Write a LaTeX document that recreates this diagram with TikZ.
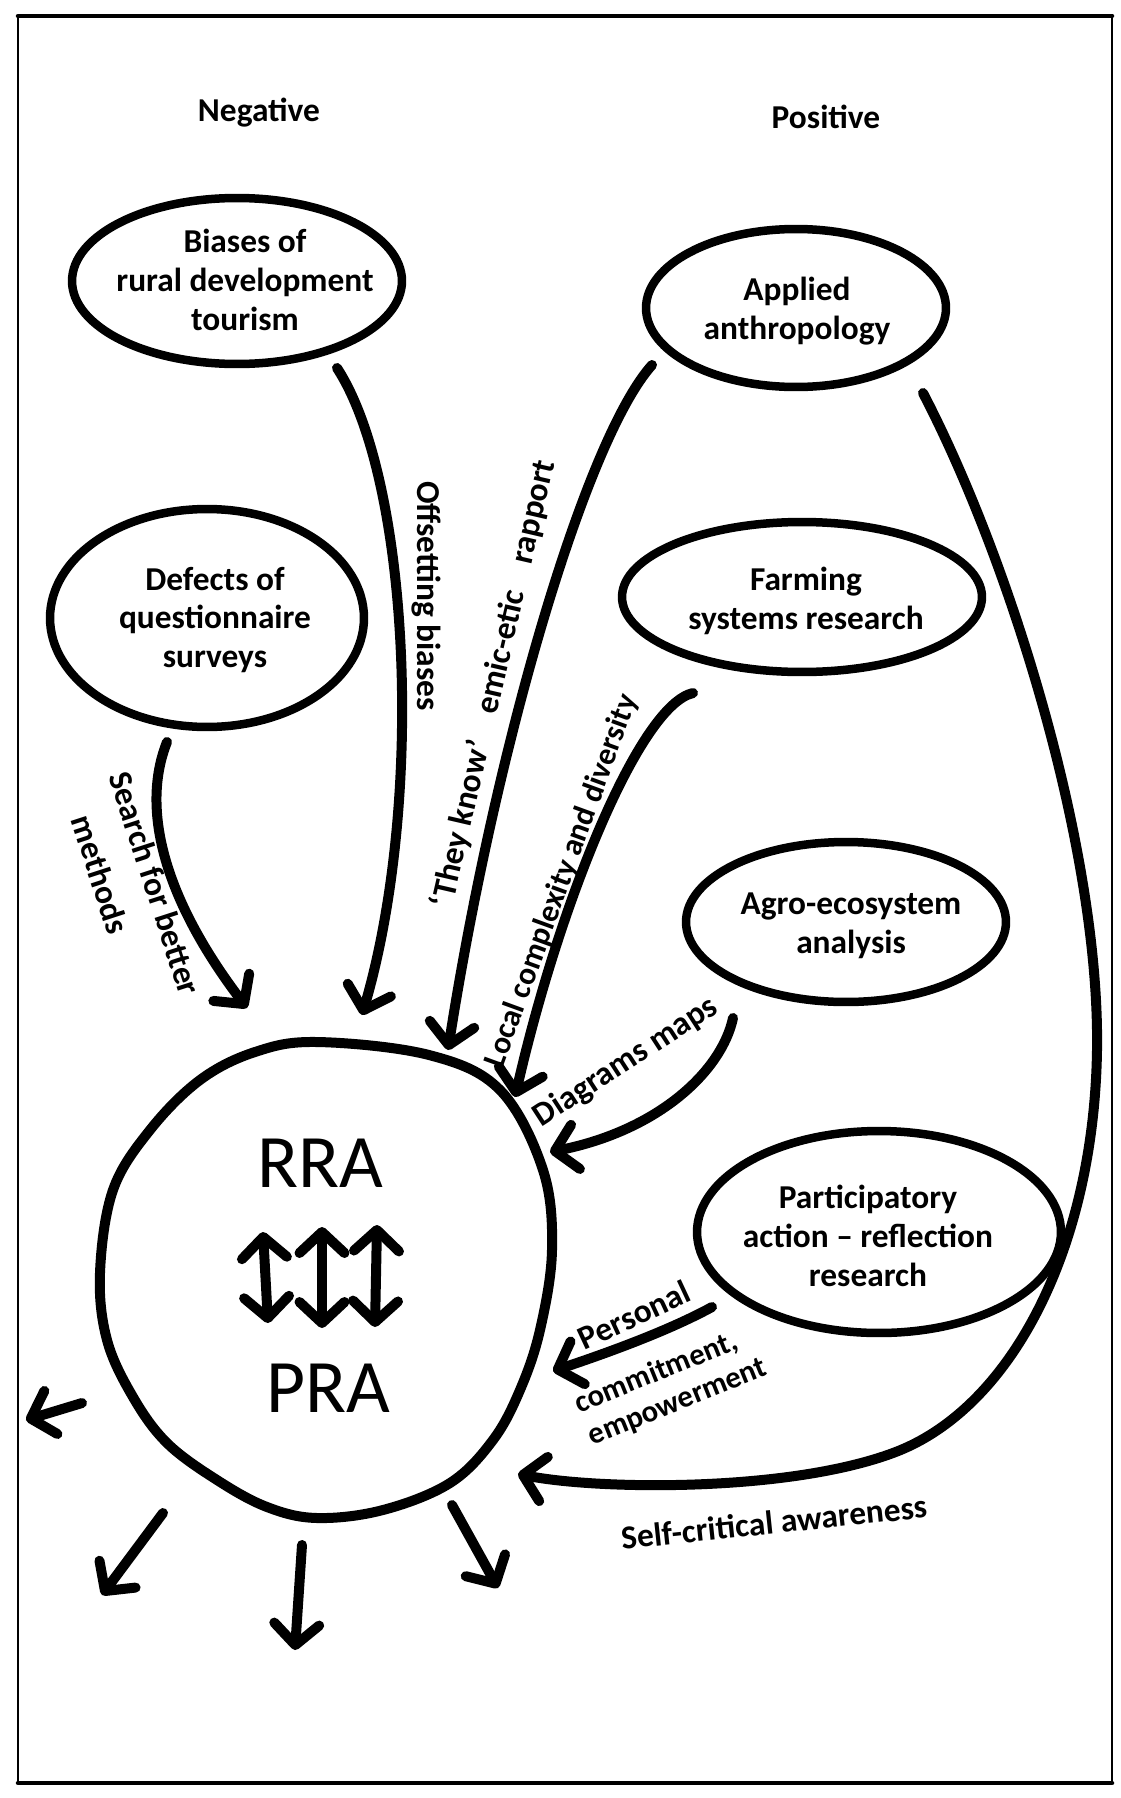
\documentclass[tikz,border=0pt]{standalone}
\usepackage{fontspec}
\setmainfont{Carlito}
\usetikzlibrary{shapes.geometric,arrows.meta}

\begin{document}
\begin{tikzpicture}[x=0.02cm,y=-0.02cm,
  bubble/.style={ellipse, draw, line width=0.17cm, inner sep=0pt},
  txt/.style={align=center, font=\bfseries\fontsize{19}{22}\selectfont, inner sep=0pt},
  lab/.style={align=center, font=\bfseries\fontsize{19}{22}\selectfont, inner sep=0pt},
  big/.style={inner sep=0pt, font=\fontsize{43}{44}\selectfont},
  flow/.style={line width=0.2cm, line cap=round, -{Straight Barb[length=0.42cm,width=0.9cm,round]}},
  both/.style={line width=0.2cm, line cap=round,
    {Straight Barb[length=0.42cm,width=0.9cm,round]}-{Straight Barb[length=0.42cm,width=0.9cm,round]}},
  edge/.style={line cap=round, line join=round},
]
\useasboundingbox (0,0) rectangle (1121,1798);

% hand-ruled frame
\draw[edge, line width=0.09cm] (18,16) -- (1112,16);
\draw[edge, line width=0.05cm] (18,16) -- (18,1783);
\draw[edge, line width=0.05cm] (1112,16) -- (1112,1783);
\draw[edge, line width=0.09cm] (18,1783) -- (1112,1783);

% column headings
\node[txt] (neg) at (259,113) {Negative};
\node[txt] (pos) at (826,117) {Positive};

% source bubbles
\node[bubble, minimum width=6.6cm, minimum height=3.32cm] (biases) at (237,281) {};
\node[txt] (biasesT) at (245,280) {Biases of\\rural development\\tourism};

\node[bubble, minimum width=6.0cm, minimum height=3.16cm] (applied) at (796,308) {};
\node[txt] (appliedT) at (797,311) {Applied\\anthropology};

\node[bubble, minimum width=6.28cm, minimum height=4.36cm] (defects) at (207,618) {};
\node[txt] (defectsT) at (215,620) {Defects of\\questionnaire\\surveys};

\node[bubble, minimum width=7.2cm, minimum height=3.0cm] (farming) at (802,597) {};
\node[txt] (farmingT) at (806,601) {Farming\\systems research};

\node[bubble, minimum width=6.4cm, minimum height=3.2cm] (agro) at (846,922) {};
\node[txt] (agroT) at (851,926) {Agro-ecosystem\\analysis};

\node[bubble, minimum width=7.28cm, minimum height=4.04cm] (partic) at (879,1232) {};
\node[txt] (particT) at (868,1236) {Participatory\\action -- reflection\\research};

% central RRA / PRA circle
\draw[line width=0.2cm, line join=round] plot[smooth cycle, tension=0.6] coordinates {
  (317,1042) (429,1055) (500,1090) (543,1170) (552,1250) (540,1330) (520,1390)
  (493,1440) (450,1483) (383,1510) (317,1518) (267,1507) (217,1480) (167,1443)
  (133,1397) (107,1340) (100,1273) (113,1190) (150,1130) (200,1080) (255,1052)};
\node[big] (rra) at (320,1163) {RRA};
\node[big] (pra) at (328,1388) {PRA};

% two-way arrows between RRA and PRA
\coordinate (d1a) at (263,1232); \coordinate (d1b) at (268,1323);
\coordinate (d2a) at (322,1227); \coordinate (d2b) at (322,1328);
\coordinate (d3a) at (377,1225); \coordinate (d3b) at (375,1327);
\draw[both] (d1a) -- (d1b);
\draw[both] (d2a) -- (d2b);
\draw[both] (d3a) -- (d3b);

% incoming influences
\coordinate (offS) at (337,368);   \coordinate (offE) at (362,1015);
\coordinate (seaS) at (167,742);   \coordinate (seaE) at (247,1008);
\coordinate (knoS) at (652,365);   \coordinate (knoE) at (448,1050);
\coordinate (locS) at (693,693);   \coordinate (locE) at (515,1097);
\coordinate (diaS) at (733,1018);  \coordinate (diaE) at (550,1152);
\coordinate (perS) at (712,1307);  \coordinate (perE) at (553,1371);
\coordinate (selS) at (923,393);   \coordinate (selE) at (518,1474);

\draw[flow] (offS) .. controls (410,480) and (425,800) .. (offE);
\draw[flow] (seaS) .. controls (140,810) and (165,900) .. (seaE);
\draw[flow] (knoS) .. controls (585,440) and (495,750) .. (knoE);
\draw[flow] (locS) .. controls (640,705) and (560,900) .. (locE);
\draw[flow] (diaS) .. controls (722,1070) and (660,1130) .. (diaE);
\draw[flow] (perS) .. controls (670,1330) and (610,1352) .. (perE);
\draw[flow] (selS) .. controls (1010,560) and (1100,850) .. (1097,1050)
                   .. controls (1094,1250) and (1010,1410) .. (893,1453)
                   .. controls (788,1492) and (600,1490) .. (selE);

% labels on the influences
\node[lab, rotate=-90] (offL) at (426,596) {Offsetting biases};
\node[lab, rotate=-72, font=\bfseries\fontsize{19}{28}\selectfont] (seaL) at (132,891)
  {Search for better\\methods\hspace{29pt}\mbox{}};
\node[lab, rotate=77] (knoL) at (494,684)
  {‘They know’\hspace{16pt}emic-etic\hspace{16pt}rapport};
\node[lab, rotate=70, font=\bfseries\fontsize{18}{20}\selectfont] (locL) at (562,881)
  {Local complexity and diversity};
\node[lab, rotate=33] (diaL) at (626,1062) {Diagrams maps};
\node[lab, rotate=25] (perL) at (634,1315) {Personal};
\node[lab, rotate=22, align=left, font=\bfseries\fontsize{17.5}{20}\selectfont] (comL) at (671,1386)
  {commitment,\\empowerment};
\node[lab, rotate=6] (selL) at (774,1522) {Self-critical awareness};

% outgoing spread
\coordinate (o1S) at (82,1403);  \coordinate (o1E) at (26,1420);
\coordinate (o2S) at (163,1513); \coordinate (o2E) at (102,1595);
\coordinate (o3S) at (302,1545); \coordinate (o3E) at (295,1650);
\coordinate (o4S) at (452,1505); \coordinate (o4E) at (498,1588);
\draw[flow] (o1S) -- (o1E);
\draw[flow] (o2S) -- (o2E);
\draw[flow] (o3S) -- (o3E);
\draw[flow] (o4S) -- (o4E);
\end{tikzpicture}
\end{document}
